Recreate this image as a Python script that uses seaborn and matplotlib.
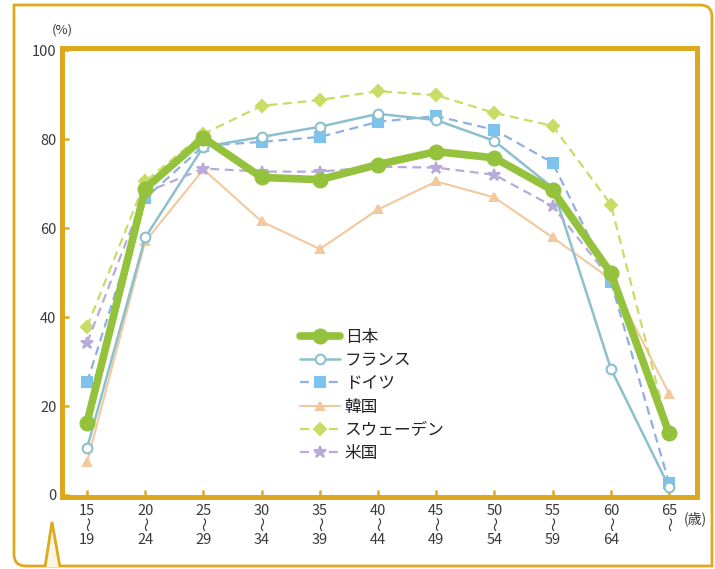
import numpy as np
import pandas as pd
import seaborn as sns
import matplotlib
matplotlib.use("Agg")
import matplotlib.pyplot as plt
from matplotlib.path import Path
from matplotlib.patches import PathPatch, Polygon
from matplotlib import transforms

# Age groups (lower bound / upper bound)
age_lo = ["15", "20", "25", "30", "35", "40", "45", "50", "55", "60", "65"]
age_hi = ["19", "24", "29", "34", "39", "44", "49", "54", "59", "64", ""]

# Female labour force participation rate by age (%)
japan = [16.3, 68.9, 80.3, 71.4, 70.9, 74.3, 77.2, 75.8, 68.5, 49.9, 13.9]
france = [10.5, 57.9, 78.3, 80.5, 82.8, 85.7, 84.3, 79.6, 69.1, 28.4, 1.8]
germany = [25.3, 66.7, 78.5, 79.4, 80.5, 83.9, 85.2, 82.1, 74.7, 48.0, 2.7]
korea = [7.4, 57.0, 73.2, 61.5, 55.3, 64.2, 70.5, 66.9, 57.9, 48.5, 22.8]
sweden = [37.8, 70.5, 81.2, 87.5, 88.8, 90.8, 89.9, 85.9, 83.0, 65.3, 14.0]
usa = [34.2, 68.0, 73.4, 72.7, 72.7, 73.8, 73.6, 72.0, 64.9, 48.5, 14.3]

names = ["日本", "フランス", "ドイツ", "韓国", "スウェーデン", "米国"]
series = [japan, france, germany, korea, sweden, usa]

sns.set_theme(style="white")
plt.rcParams["font.family"] = ["Noto Sans CJK JP", "DejaVu Sans"]

GOLD = "#DDA91E"
TEXT = "#3a3a3a"

W, H = 715, 569
fig = plt.figure(figsize=(W / 100, H / 100), dpi=100)
ax = fig.add_axes([62 / W, 1 - 497 / H, (697 - 62) / W, (497 - 48) / H])

x = np.arange(len(age_lo))
df = pd.DataFrame({"x": x})
for n, s in zip(names, series):
    df[n] = s

styles = {
    "日本": dict(color="#94C23C", lw=5.5, ls="-", marker="o", ms=10,
               mfc="#94C23C", mec="#94C23C", z=10),
    "フランス": dict(color="#8DC0CE", lw=1.8, ls="-", marker="o", ms=7,
                 mfc="white", mec="#8DC0CE", z=6),
    "ドイツ": dict(color="#8FB0E2", lw=1.6, ls=(0, (4, 2.5)), marker="s", ms=6.5,
                mfc="#7EC2EE", mec="#7EC2EE", z=5),
    "韓国": dict(color="#F3C89C", lw=1.5, ls="-", marker="^", ms=5.5,
               mfc="#F3C89C", mec="#F3C89C", z=3),
    "スウェーデン": dict(color="#C9DC66", lw=1.6, ls=(0, (4, 2.5)), marker="D", ms=6.5,
                   mfc="#C9DC66", mec="#C9DC66", z=4),
    "米国": dict(color="#B7ABDA", lw=1.6, ls=(0, (4, 2.5)), marker="*", ms=9,
               mfc="#B7ABDA", mec="#B7ABDA", z=7),
}

for n in names:
    st = styles[n]
    sns.lineplot(data=df, x="x", y=n, ax=ax, color=st["color"], lw=st["lw"],
                 linestyle=st["ls"], marker=st["marker"], markersize=st["ms"],
                 markerfacecolor=st["mfc"], markeredgecolor=st["mec"],
                 markeredgewidth=1.5, zorder=st["z"], label=n)

ax.set_xlim(-0.43, 10.48)
ax.set_ylim(-0.45, 100.5)
ax.set_xlabel("")
ax.set_ylabel("")

for sp in ax.spines.values():
    sp.set_color(GOLD)
    sp.set_linewidth(3.6)
    sp.set_visible(True)

ax.set_yticks([0, 20, 40, 60, 80, 100])
ax.set_yticklabels(["0", "20", "40", "60", "80", "100"], color=TEXT, fontsize=10.5)
ax.set_xticks(x)
ax.set_xticklabels(age_lo, color=TEXT, fontsize=10.5)
ax.tick_params(axis="both", direction="in", length=5, width=1.8, color=GOLD,
               left=True, bottom=True, pad=5)
ax.tick_params(axis="y", pad=4)
ax.grid(False)

# Wave mark ("from ... to") and the upper bound under each age tick
xt = transforms.blended_transform_factory(ax.transData, fig.transFigure)
wave_shift = transforms.ScaledTranslation(3 / 100, 0, fig.dpi_scale_trans)
for xi, hi in zip(x, age_hi):
    ax.text(xi, 1 - 524 / H, "〜", transform=xt + wave_shift, ha="center",
            va="center", rotation=90, fontsize=10.5, color=TEXT)
    if hi:
        ax.text(xi, 1 - 540 / H, hi, transform=xt, ha="center", va="center",
                fontsize=10.5, color=TEXT)

fig.text(52 / W, 1 - 30 / H, "(%)", color=TEXT, fontsize=9.5, va="center")
fig.text(684 / W, 1 - 519 / H, "(歳)", color=TEXT, fontsize=10, va="center")

leg = ax.legend(loc="upper left", bbox_to_anchor=(0.365, 0.39), frameon=False,
                fontsize=12, handlelength=2.4, handletextpad=0.25,
                labelspacing=0.38, borderaxespad=0)
for t in leg.get_texts():
    t.set_color("#222222")

# Rounded outer frame with a small pointer at the lower left
px = transforms.Affine2D().scale(1 / W, -1 / H).translate(0, 1) + fig.transFigure
r = 12
verts = [(14, 5), (712 - r, 5), (712, 5), (712, 5 + r), (712, 566),
         (14 + r, 566), (14, 566), (14, 566 - r), (14, 5)]
codes = [Path.MOVETO, Path.LINETO, Path.CURVE3, Path.CURVE3, Path.LINETO,
         Path.LINETO, Path.CURVE3, Path.CURVE3, Path.CLOSEPOLY]
fig.patches.append(PathPatch(Path(verts, codes), transform=px, fill=False,
                             edgecolor=GOLD, lw=2.0))
fig.patches.append(Polygon([(45, 567), (52, 522), (60, 567)], closed=False,
                           transform=px, facecolor="#FFF6E2", edgecolor=GOLD, lw=2.0))

fig.savefig("out.png", dpi=100)
